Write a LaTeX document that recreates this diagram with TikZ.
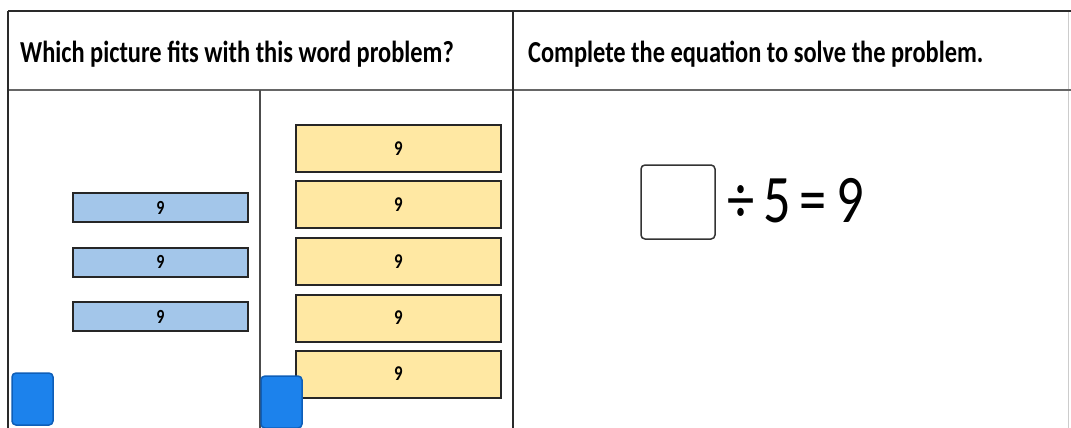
\documentclass[tikz,border=0pt]{standalone}
\usepackage{graphicx}
\usepackage{fontspec}
\setmainfont{Carlito}[Numbers=Lining]
\newcommand\sqz[1]{\scalebox{0.8}[1]{#1}}
\definecolor{barblue}{HTML}{A3C6EA}
\definecolor{baryel}{HTML}{FFE8A3}
\definecolor{btnblue}{HTML}{1C82EC}
\definecolor{btnedge}{HTML}{0E5EB8}
\definecolor{rule}{HTML}{2A2A2A}
\tikzset{
  frame/.style={draw=rule, line width=2pt},
  bluebar/.style={draw=black!85, fill=barblue, line width=2pt, minimum width=175pt, minimum height=29pt, inner sep=0pt, font=\fontsize{20}{20}\selectfont\bfseries},
  yelbar/.style={draw=black!85, fill=baryel, line width=2pt, minimum width=205pt, minimum height=47pt, inner sep=0pt, font=\fontsize{21}{21}\selectfont\bfseries},
  btn/.style={draw=btnedge, fill=btnblue, line width=1.5pt, rounded corners=4pt, minimum width=41pt, minimum height=52pt, inner sep=0pt},
  ansbox/.style={draw=black!80, fill=white, line width=1.5pt, rounded corners=4pt, minimum width=74pt, minimum height=74pt, inner sep=0pt},
  head/.style={anchor=base west, inner sep=0pt, font=\fontsize{30.5}{31}\selectfont\bfseries},
}
\begin{document}
\begin{tikzpicture}[x=1pt,y=-1pt]
\useasboundingbox (0,0) rectangle (1071,428);
\fill[white] (0,0) rectangle (1071,428);
% frame
\draw[draw=black!20, line width=1pt] (1068,11) -- (1068,428);
\draw[draw=rule, line width=2.5pt] (8,11) -- (1071,11);
\draw[draw=black!60, line width=2pt] (8,90) -- (1071,90);
\draw[frame] (8,11) -- (8,428);
\draw[frame] (513,11) -- (513,428);
\draw[draw=black!70, line width=1.8pt] (260,90) -- (260,428);
% headers
\node[head] (h1) at (20,63) {\sqz{Which picture fits with this word problem?}};
\node[head] (h2) at (528,63) {\sqz{Complete the equation to solve the problem.}};
% blue bars
\node[bluebar] (b1) at (160.5,207.5) {\sqz{9}};
\node[bluebar] (b2) at (160.5,262) {\sqz{9}};
\node[bluebar] (b3) at (160.5,316.5) {\sqz{9}};
% yellow bars
\node[yelbar] (y1) at (398.5,148.5) {\sqz{9}};
\node[yelbar] (y2) at (398.5,204.5) {\sqz{9}};
\node[yelbar] (y3) at (398.5,261.5) {\sqz{9}};
\node[yelbar] (y4) at (398.5,318) {\sqz{9}};
\node[yelbar] (y5) at (398.5,374) {\sqz{9}};
% buttons
\node[btn] (k1) at (32.5,399) {};
\node[btn] (k2) at (281.5,402) {};
% equation
\node[ansbox] (ans) at (678,202) {};
\node[anchor=base west, inner sep=0pt, font=\fontsize{68}{68}\selectfont] (eq) at (727,222) {\sqz{÷\,5\,=\,9}};
\end{tikzpicture}
\end{document}
